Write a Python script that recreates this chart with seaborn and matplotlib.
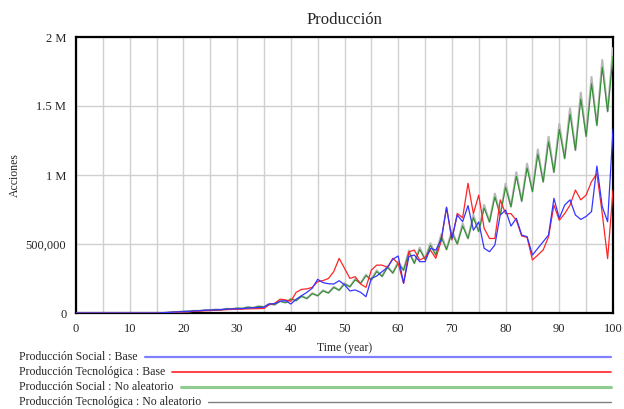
import numpy as np
import pandas as pd
import matplotlib
matplotlib.use("Agg")
import matplotlib.pyplot as plt
from matplotlib.lines import Line2D
from matplotlib.ticker import FixedLocator, MultipleLocator
import seaborn as sns

# ---------------- data (values in millions of "Acciones") ----------------
years = list(range(0, 101))

social_base = [0]*16 + [
    0.002, 0.004, 0.006, 0.008, 0.010, 0.012, 0.015, 0.017, 0.020, 0.022,   # 16-25
    0.022, 0.025, 0.028, 0.030, 0.030, 0.032, 0.035, 0.038, 0.040, 0.042,   # 26-35
    0.065, 0.068, 0.085, 0.090, 0.065, 0.100, 0.125, 0.150, 0.180, 0.244,   # 36-45
    0.220, 0.212, 0.210, 0.234, 0.205, 0.160, 0.167, 0.150, 0.118, 0.251,   # 46-55
    0.268, 0.300, 0.330, 0.390, 0.413, 0.215, 0.410, 0.420, 0.372, 0.372,   # 56-65
    0.468, 0.456, 0.530, 0.766, 0.540, 0.710, 0.662, 0.778, 0.600, 0.660,   # 66-75
    0.469, 0.444, 0.493, 0.710, 0.746, 0.630, 0.686, 0.565, 0.553, 0.420,   # 76-85
    0.469, 0.517, 0.565, 0.831, 0.686, 0.782, 0.820, 0.710, 0.678, 0.700,   # 86-95
    0.735, 1.065, 0.770, 0.662, 1.330]                                      # 96-100

tecno_base = [0]*16 + [
    0.001, 0.003, 0.005, 0.007, 0.008, 0.010, 0.012, 0.014, 0.016, 0.018,   # 16-25
    0.020, 0.022, 0.024, 0.026, 0.027, 0.028, 0.030, 0.031, 0.032, 0.033,   # 26-35
    0.060, 0.070, 0.100, 0.095, 0.085, 0.150, 0.171, 0.175, 0.186, 0.227,   # 36-45
    0.235, 0.250, 0.300, 0.396, 0.324, 0.251, 0.263, 0.210, 0.186, 0.311,   # 46-55
    0.347, 0.347, 0.330, 0.396, 0.360, 0.215, 0.444, 0.456, 0.384, 0.403,   # 56-65
    0.456, 0.396, 0.520, 0.766, 0.529, 0.722, 0.690, 0.940, 0.720, 0.855,   # 66-75
    0.614, 0.540, 0.540, 0.820, 0.720, 0.720, 0.672, 0.558, 0.548, 0.384,   # 76-85
    0.420, 0.457, 0.553, 0.782, 0.672, 0.720, 0.782, 0.891, 0.820, 0.855,   # 86-95
    0.952, 1.010, 0.720, 0.394, 0.890]                                      # 96-100

social_noal = [0]*17 + [
    0.003, 0.006, 0.008, 0.012, 0.012, 0.016, 0.015, 0.020, 0.019,          # 17-25
    0.025, 0.023, 0.030, 0.028, 0.035, 0.033, 0.042, 0.038, 0.048, 0.044,   # 26-35
    0.065, 0.060, 0.085, 0.075, 0.100, 0.090, 0.120, 0.105, 0.140, 0.125,   # 36-45
    0.160, 0.145, 0.185, 0.165, 0.210, 0.190, 0.240, 0.215, 0.270, 0.240,   # 46-55
    0.300, 0.265, 0.330, 0.290, 0.360, 0.310, 0.440, 0.360, 0.460, 0.390,   # 56-65
    0.490, 0.420, 0.550, 0.460, 0.580, 0.500, 0.630, 0.540, 0.690, 0.590,   # 66-75
    0.760, 0.660, 0.840, 0.710, 0.910, 0.770, 0.990, 0.810, 1.050, 0.880,   # 76-85
    1.150, 0.950, 1.240, 1.020, 1.330, 1.120, 1.440, 1.180, 1.550, 1.280,   # 86-95
    1.660, 1.360, 1.780, 1.460, 1.860]                                      # 96-100

tecno_noal = [0]*17 + [
    0.003, 0.006, 0.008, 0.012, 0.012, 0.016, 0.015, 0.021, 0.019,          # 17-25
    0.026, 0.023, 0.031, 0.028, 0.036, 0.033, 0.043, 0.038, 0.049, 0.044,   # 26-35
    0.067, 0.060, 0.087, 0.075, 0.103, 0.090, 0.123, 0.105, 0.144, 0.125,   # 36-45
    0.165, 0.145, 0.190, 0.165, 0.216, 0.190, 0.247, 0.215, 0.278, 0.240,   # 46-55
    0.309, 0.265, 0.340, 0.290, 0.371, 0.310, 0.453, 0.360, 0.474, 0.390,   # 56-65
    0.505, 0.420, 0.567, 0.460, 0.598, 0.500, 0.649, 0.540, 0.711, 0.590,   # 66-75
    0.783, 0.660, 0.865, 0.710, 0.937, 0.770, 1.020, 0.810, 1.082, 0.880,   # 76-85
    1.185, 0.950, 1.277, 1.020, 1.370, 1.120, 1.483, 1.180, 1.597, 1.280,   # 86-95
    1.710, 1.360, 1.833, 1.460, 1.920]                                      # 96-100

series_names = ["Producción Social : Base",
                "Producción Tecnológica : Base",
                "Producción Social : No aleatorio",
                "Producción Tecnológica : No aleatorio"]
series_values = [social_base, tecno_base, social_noal, tecno_noal]

ytick_vals = [0, 0.5, 1.0, 1.5, 2.0]
ytick_labels = ["0", "500,000", "1 M", "1.5 M", "2 M"]
xtick_vals = list(range(0, 101, 10))

# ---------------- styling ----------------
plot_colors = ["#3535ff", "#ff2525", "#2f8f2f", "#b8b8b8"]
plot_widths = [0.9, 0.9, 0.8, 1.5]
legend_colors = ["#8080ff", "#ff2020", "#8fcc8f", "#808080"]
legend_widths = [1.6, 1.2, 2.2, 1.0]
draw_order = [3, 2, 1, 0]

sns.set_style("white")
plt.rcParams["font.family"] = ["Liberation Serif", "DejaVu Serif"]

fig = plt.figure(figsize=(6.24, 4.09), dpi=100)
ax = fig.add_axes([76/624, 1-313/409, (613-76)/624, (313-37)/409])

frames = []
for name, vals in zip(series_names, series_values):
    frames.append(pd.DataFrame({"Time": years, "Valor": vals, "Serie": name}))
df = pd.concat(frames, ignore_index=True)

for i in draw_order:
    sub = df[df["Serie"] == series_names[i]]
    sns.lineplot(data=sub, x="Time", y="Valor", ax=ax, color=plot_colors[i],
                 linewidth=plot_widths[i], legend=False, zorder=3+(3-i))

ax.set_xlim(0, 100)
ax.set_ylim(0, 2.0)
ax.xaxis.set_major_locator(FixedLocator(xtick_vals))
ax.xaxis.set_minor_locator(MultipleLocator(5))
ax.set_yticks(ytick_vals)
ax.set_yticklabels(ytick_labels)
ax.set_xticklabels([str(v) for v in xtick_vals])
ax.grid(True, which="both", axis="x", color="#d0d0d0", linewidth=1.0, zorder=0)
ax.grid(True, which="major", axis="y", color="#d0d0d0", linewidth=1.0, zorder=0)
ax.set_axisbelow(True)
ax.tick_params(axis="both", which="both", length=0, labelsize=9, pad=7)
for s in ax.spines.values():
    s.set_color("black")
    s.set_linewidth(1.6)
ax.set_xlabel("Time (year)", fontsize=8.5, labelpad=5)
ax.set_ylabel("Acciones", fontsize=8.5)
ax.yaxis.set_label_coords(-0.102, 0.5)
ax.set_title("Producción", fontsize=12, pad=9)

# legend rows below the axis, Vensim style
row_y = [357, 372, 387, 402]
fig.canvas.draw()
renderer = fig.canvas.get_renderer()
for i, name in enumerate(series_names):
    yy = 1 - row_y[i]/409
    t = fig.text(19/624, yy, name, fontsize=8.5, ha="left", va="center")
    bb = t.get_window_extent(renderer=renderer)
    x0 = (bb.x1 + 7) / 624
    fig.add_artist(Line2D([x0, 611/624], [yy, yy], transform=fig.transFigure,
                          color=legend_colors[i], linewidth=legend_widths[i]))

fig.savefig("out.png", dpi=100)
